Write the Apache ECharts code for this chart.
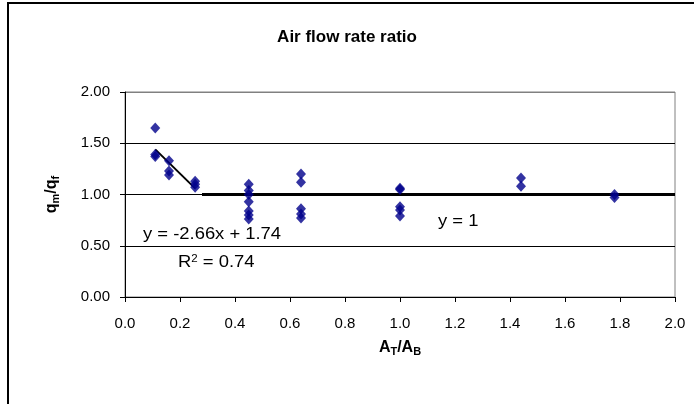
<!DOCTYPE html>
<html>
<head>
<meta charset="utf-8">
<script src="https://cdn.jsdelivr.net/npm/echarts@6/dist/echarts.min.js"></script>
<style>
html,body{margin:0;padding:0;background:#fff;}
#c{width:694px;height:404px;}
</style>
</head>
<body>
<div id="c"></div>
<script>
// Measured data (x = AT/AB, y = qm/qf)
const pointsX = [0.11, 0.11, 0.11, 0.16, 0.16, 0.16, 0.255, 0.255, 0.255,
                 0.45, 0.45, 0.45, 0.45, 0.45, 0.45, 0.45,
                 0.64, 0.64, 0.64, 0.64, 0.64,
                 1.0, 1.0, 1.0, 1.0, 1.0,
                 1.44, 1.44, 1.78, 1.78];
const pointsY = [1.65, 1.39, 1.37, 1.33, 1.23, 1.19, 1.13, 1.10, 1.07,
                 1.10, 1.04, 1.00, 0.93, 0.84, 0.80, 0.76,
                 1.20, 1.12, 0.86, 0.81, 0.77,
                 1.06, 1.05, 0.88, 0.85, 0.79,
                 1.16, 1.08, 1.00, 0.97];
const trendX = [0.11, 0.255];
const trendY = [1.44, 1.06];
const unityX = [0.28, 2.0];
const unityY = [1, 1];
const yTicks = [0, 0.5, 1.0, 1.5, 2.0];
const xTicks = [0, 0.2, 0.4, 0.6, 0.8, 1.0, 1.2, 1.4, 1.6, 1.8, 2.0];

const FONT = 'Liberation Sans, Arial, sans-serif';
const zip = (a, b) => a.map((v, i) => [v, b[i]]);

const chart = echarts.init(document.getElementById('c'), null, {renderer: 'canvas'});
chart.setOption({
  animation: false,
  backgroundColor: '#fff',
  title: {
    text: 'Air flow rate ratio',
    left: 'center', top: 24,
    textStyle: {fontFamily: FONT, fontSize: 17, fontWeight: 'bold', color: '#000'}
  },
  grid: {left: 125, right: 19, top: 92, bottom: 107, show: true, borderColor: '#808080', borderWidth: 1},
  xAxis: {
    type: 'value', min: 0, max: 2, interval: 0.2,
    name: '{b|A}{s|T}{b|/A}{s|B}', nameLocation: 'middle', nameGap: 42,
    nameTextStyle: {
      fontFamily: FONT,
      rich: {
        b: {fontFamily: FONT, fontSize: 16, fontWeight: 'bold', color: '#000'},
        s: {fontFamily: FONT, fontSize: 11, fontWeight: 'bold', color: '#000', padding: [7, 0, 0, 0]}
      }
    },
    axisLine: {show: true, lineStyle: {color: '#000', width: 1}},
    axisTick: {show: true, inside: false, length: 5, lineStyle: {color: '#000'}},
    axisLabel: {fontFamily: FONT, fontSize: 15, color: '#000', margin: 19,
      formatter: v => v.toFixed(1)},
    splitLine: {show: false}
  },
  yAxis: {
    type: 'value', min: 0, max: 2, interval: 0.5,
    name: '{b|q}{s|m}{b|/q}{s|f}', nameLocation: 'middle', nameGap: 64, nameRotate: 90,
    nameTextStyle: {
      fontFamily: FONT,
      rich: {
        b: {fontFamily: FONT, fontSize: 16, fontWeight: 'bold', color: '#000'},
        s: {fontFamily: FONT, fontSize: 11, fontWeight: 'bold', color: '#000', padding: [7, 0, 0, 0]}
      }
    },
    axisLine: {show: true, lineStyle: {color: '#000', width: 1}},
    axisTick: {show: true, inside: false, length: 5, lineStyle: {color: '#000'}},
    axisLabel: {fontFamily: FONT, fontSize: 15, color: '#000', margin: 15,
      formatter: v => v.toFixed(2)},
    splitLine: {show: true, lineStyle: {color: ['#000', '#000', '#000', '#000', '#808080'], width: 1}}
  },
  series: [
    {
      type: 'line', data: zip(unityX, unityY), symbol: 'none',
      lineStyle: {color: '#000', width: 3}, z: 2
    },
    {
      type: 'line', data: zip(trendX, trendY), symbol: 'none',
      lineStyle: {color: '#000', width: 2}, z: 2
    },
    {
      type: 'scatter', data: zip(pointsX, pointsY), symbol: 'diamond', symbolSize: [10, 11],
      itemStyle: {color: '#00008b'}, z: 3
    }
  ],
  graphic: [
    {type: 'rect', shape: {x: 8, y: 3, width: 720, height: 440},
     style: {fill: 'none', stroke: '#000', lineWidth: 2}, silent: true, z: 100},
    {type: 'text', x: 143, y: 227, scaleX: 1.15, style: {text: 'y = -2.66x + 1.74', font: '16px ' + FONT, fill: '#000'}},
    {type: 'text', x: 178, y: 254, scaleX: 1.15, style: {text: 'R{sup|2} = 0.74', font: '16px ' + FONT, fill: '#000',
      rich: {sup: {fontSize: 10, fontFamily: FONT, padding: [0, 0, 8, 0], fill: '#000'}}}},
    {type: 'text', x: 438, y: 214, scaleX: 1.15, style: {text: 'y = 1', font: '16px ' + FONT, fill: '#000'}}
  ]
});
</script>
</body>
</html>
